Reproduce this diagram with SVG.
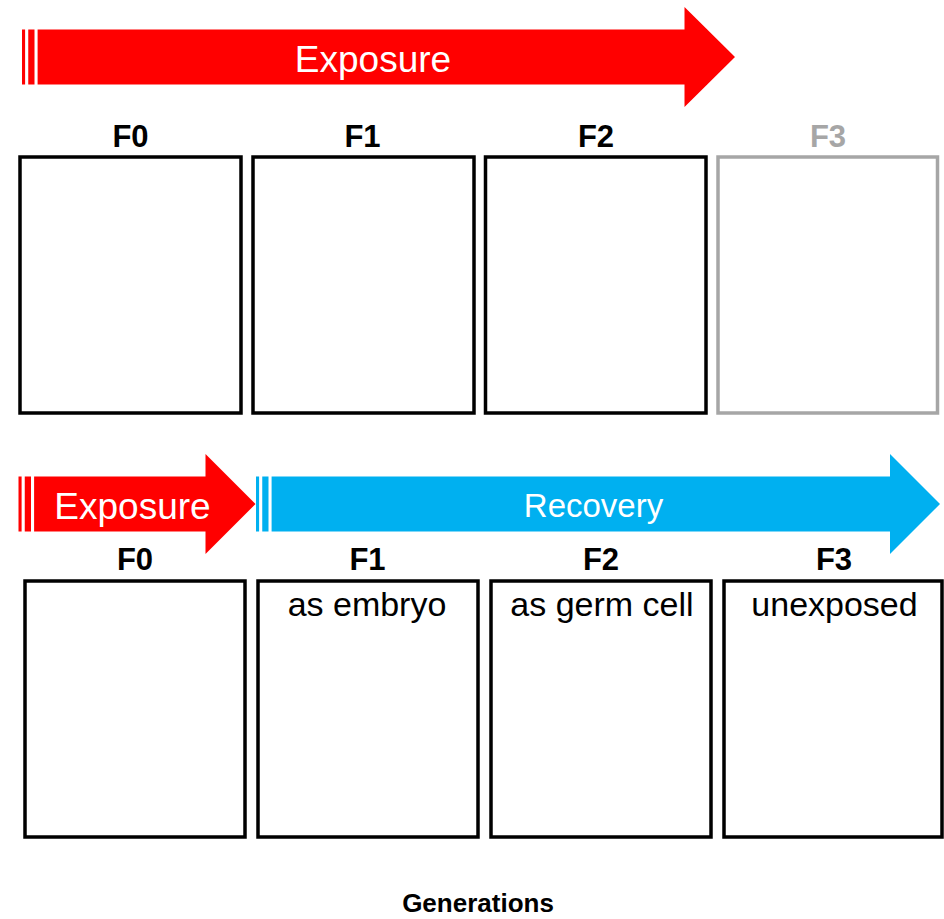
<svg xmlns="http://www.w3.org/2000/svg" width="944" height="919" viewBox="0 0 944 919">
<style>
.box{fill:#FFFFFF;stroke:#000000;stroke-width:3.5}
.gbox{fill:#FFFFFF;stroke:#A6A6A6;stroke-width:3.5}
.red{fill:#FF0000}
.blue{fill:#00B0F0}
.lbl{font-family:"Liberation Sans",Arial,sans-serif;font-weight:bold;font-size:31px;fill:#000000;text-anchor:middle}
.glbl{fill:#A6A6A6}
.sub{font-family:"Liberation Sans",Arial,sans-serif;font-size:34px;fill:#000000;text-anchor:middle}
.arr{font-family:"Liberation Sans",Arial,sans-serif;font-size:37px;fill:#FFFFFF;text-anchor:middle}
.arr2{font-family:"Liberation Sans",Arial,sans-serif;font-size:33px;fill:#FFFFFF;text-anchor:middle}
.foot{font-family:"Liberation Sans",Arial,sans-serif;font-weight:bold;font-size:26px;fill:#000000;text-anchor:middle}
</style>
<g id="connectors">
<g id="arrow-exposure-top">
<rect class="red" x="22" y="29.5" width="3.1" height="55"/>
<rect class="red" x="28.25" y="29.5" width="6.25" height="55"/>
<polygon class="red" points="37.6,29.5 684.5,29.5 684.5,7 735,57 684.5,107 684.5,84.5 37.6,84.5"/>
<text class="arr" x="373" y="72">Exposure</text>
</g>
<g id="arrow-exposure-bottom">
<rect class="red" x="18.5" y="476.5" width="3.1" height="55"/>
<rect class="red" x="24.75" y="476.5" width="6.25" height="55"/>
<polygon class="red" points="34.1,476.5 205.5,476.5 205.5,454 255.5,504 205.5,554 205.5,531.5 34.1,531.5"/>
<text class="arr" x="132.5" y="519">Exposure</text>
</g>
<g id="arrow-recovery">
<rect class="blue" x="256" y="476.5" width="3.1" height="55"/>
<rect class="blue" x="262.25" y="476.5" width="6.25" height="55"/>
<polygon class="blue" points="271.6,476.5 890,476.5 890,454 940,504 890,554 890,531.5 271.6,531.5"/>
<text class="arr2" x="593.5" y="517">Recovery</text>
</g>
</g>
<g id="top-F0"><text class="lbl" x="130.5" y="147">F0</text><rect class="box" x="20" y="157" width="221" height="256"/></g>
<g id="top-F1"><text class="lbl" x="362.5" y="147">F1</text><rect class="box" x="253" y="157" width="221" height="256"/></g>
<g id="top-F2"><text class="lbl" x="596" y="147">F2</text><rect class="box" x="485.5" y="157" width="220.5" height="256"/></g>
<g id="top-F3"><text class="lbl glbl" x="828" y="147">F3</text><rect class="gbox" x="718" y="157" width="219.5" height="256"/></g>
<g id="bottom-F0"><text class="lbl" x="135" y="570">F0</text><rect class="box" x="25" y="581" width="220" height="256"/></g>
<g id="bottom-F1"><text class="lbl" x="367.5" y="570">F1</text><rect class="box" x="258" y="581" width="220" height="256"/><text class="sub" x="367" y="616">as embryo</text></g>
<g id="bottom-F2"><text class="lbl" x="601" y="570">F2</text><rect class="box" x="491" y="581" width="220" height="256"/><text class="sub" x="602" y="616">as germ cell</text></g>
<g id="bottom-F3"><text class="lbl" x="834" y="570">F3</text><rect class="box" x="724" y="581" width="218" height="256"/><text class="sub" x="834.5" y="616">unexposed</text></g>
<text class="foot" x="478" y="912">Generations</text>
</svg>
